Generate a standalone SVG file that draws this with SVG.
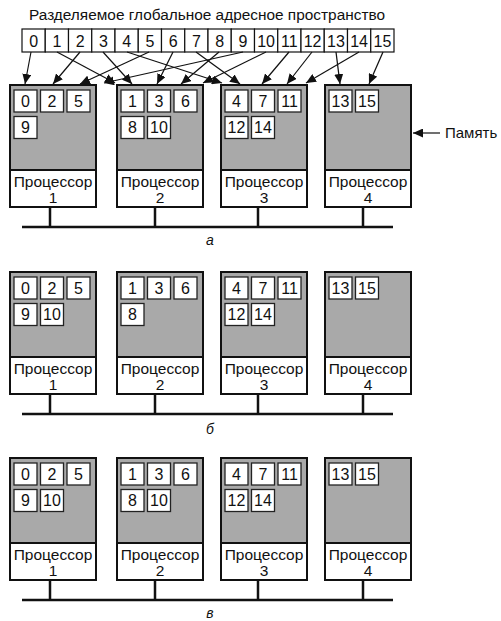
<svg xmlns="http://www.w3.org/2000/svg" width="501" height="621" viewBox="0 0 501 621">
<defs>
<style>
.t{font-family:"Liberation Sans",Arial,sans-serif;fill:#111}
.title{font-size:15.4px;text-anchor:middle}
.num{font-size:16px;text-anchor:middle}
.proc-t{font-size:15.5px;text-anchor:middle}
.lbl{font-size:14px;font-style:italic;text-anchor:middle}
.acell{fill:#fff;stroke:#111;stroke-width:1.2}
.mem{fill:#a9a9a9}
.procbg{fill:#fff}
.frame{fill:none;stroke:#111;stroke-width:2}
.cell{fill:#fff;stroke:#222;stroke-width:1.3}
.bus{stroke:#111;stroke-width:2.5;fill:none}
.arr{stroke:#111;stroke-width:1.2;fill:none;marker-end:url(#ah)}
</style>
<marker id="ah" markerWidth="11" markerHeight="9" refX="10" refY="4.5" orient="auto" markerUnits="userSpaceOnUse">
<path d="M0,0 L10,4.5 L0,9 z" fill="#111"/>
</marker>
</defs>
<rect width="501" height="621" fill="#fff"/>

<g id="title"><text class="t title" x="207" y="20">Разделяемое глобальное адресное пространство</text></g>

<g id="address-space">
<rect class="acell" x="22" y="29" width="23.25" height="23"/><text class="t num" x="33.6" y="46.5">0</text>
<rect class="acell" x="45.25" y="29" width="23.25" height="23"/><text class="t num" x="56.9" y="46.5">1</text>
<rect class="acell" x="68.5" y="29" width="23.25" height="23"/><text class="t num" x="80.1" y="46.5">2</text>
<rect class="acell" x="91.75" y="29" width="23.25" height="23"/><text class="t num" x="103.4" y="46.5">3</text>
<rect class="acell" x="115" y="29" width="23.25" height="23"/><text class="t num" x="126.6" y="46.5">4</text>
<rect class="acell" x="138.25" y="29" width="23.25" height="23"/><text class="t num" x="149.9" y="46.5">5</text>
<rect class="acell" x="161.5" y="29" width="23.25" height="23"/><text class="t num" x="173.1" y="46.5">6</text>
<rect class="acell" x="184.75" y="29" width="23.25" height="23"/><text class="t num" x="196.4" y="46.5">7</text>
<rect class="acell" x="208" y="29" width="23.25" height="23"/><text class="t num" x="219.6" y="46.5">8</text>
<rect class="acell" x="231.25" y="29" width="23.25" height="23"/><text class="t num" x="242.9" y="46.5">9</text>
<rect class="acell" x="254.5" y="29" width="23.25" height="23"/><text class="t num" x="266.1" y="46.5">10</text>
<rect class="acell" x="277.75" y="29" width="23.25" height="23"/><text class="t num" x="289.4" y="46.5">11</text>
<rect class="acell" x="301" y="29" width="23.25" height="23"/><text class="t num" x="312.6" y="46.5">12</text>
<rect class="acell" x="324.25" y="29" width="23.25" height="23"/><text class="t num" x="335.9" y="46.5">13</text>
<rect class="acell" x="347.5" y="29" width="23.25" height="23"/><text class="t num" x="359.1" y="46.5">14</text>
<rect class="acell" x="370.75" y="29" width="23.25" height="23"/><text class="t num" x="382.4" y="46.5">15</text>
</g>

<g id="connectors">
<line class="arr" x1="31" y1="52" x2="25" y2="84"/>
<line class="arr" x1="80" y1="52" x2="53" y2="84"/>
<line class="arr" x1="149" y1="52" x2="80" y2="84"/>
<line class="arr" x1="243" y1="52" x2="104" y2="83"/>
<line class="arr" x1="57" y1="52" x2="115" y2="83"/>
<line class="arr" x1="103" y1="52" x2="132" y2="84"/>
<line class="arr" x1="173" y1="52" x2="157" y2="84"/>
<line class="arr" x1="219" y1="52" x2="181" y2="84"/>
<line class="arr" x1="266" y1="52" x2="203" y2="83"/>
<line class="arr" x1="127" y1="52" x2="222" y2="83"/>
<line class="arr" x1="196" y1="52" x2="240" y2="84"/>
<line class="arr" x1="289" y1="52" x2="262" y2="84"/>
<line class="arr" x1="312" y1="52" x2="287" y2="84"/>
<line class="arr" x1="359" y1="52" x2="306" y2="83"/>
<line class="arr" x1="336" y1="52" x2="340" y2="84"/>
<line class="arr" x1="383" y1="52" x2="369" y2="84"/>
<line class="arr" x1="440" y1="133" x2="413" y2="133"/>
</g>

<g id="memory-label"><text class="t" x="445" y="138" font-size="15">Память</text></g>

<!-- Section a -->
<g id="a-p1" transform="translate(10,85)">
<rect class="mem" width="86" height="85"/><rect class="procbg" y="85" width="86" height="37"/>
<rect class="cell" x="4" y="5" width="23" height="22"/><text class="t num" x="15.5" y="21.8">0</text>
<rect class="cell" x="30.5" y="5" width="23" height="22"/><text class="t num" x="42" y="21.8">2</text>
<rect class="cell" x="57" y="5" width="23" height="22"/><text class="t num" x="68.5" y="21.8">5</text>
<rect class="cell" x="4" y="31.5" width="23" height="22"/><text class="t num" x="15.5" y="48.3">9</text>
<rect class="frame" width="86" height="122"/><line class="frame" x1="0" y1="85" x2="86" y2="85"/>
<text class="t proc-t" x="43" y="102">Процессор</text><text class="t proc-t" x="43" y="118">1</text>
</g>
<g id="a-p2" transform="translate(117,85)">
<rect class="mem" width="86" height="85"/><rect class="procbg" y="85" width="86" height="37"/>
<rect class="cell" x="4" y="5" width="23" height="22"/><text class="t num" x="15.5" y="21.8">1</text>
<rect class="cell" x="30.5" y="5" width="23" height="22"/><text class="t num" x="42" y="21.8">3</text>
<rect class="cell" x="57" y="5" width="23" height="22"/><text class="t num" x="68.5" y="21.8">6</text>
<rect class="cell" x="4" y="31.5" width="23" height="22"/><text class="t num" x="15.5" y="48.3">8</text>
<rect class="cell" x="30.5" y="31.5" width="23" height="22"/><text class="t num" x="42" y="48.3">10</text>
<rect class="frame" width="86" height="122"/><line class="frame" x1="0" y1="85" x2="86" y2="85"/>
<text class="t proc-t" x="43" y="102">Процессор</text><text class="t proc-t" x="43" y="118">2</text>
</g>
<g id="a-p3" transform="translate(221,85)">
<rect class="mem" width="86" height="85"/><rect class="procbg" y="85" width="86" height="37"/>
<rect class="cell" x="4" y="5" width="23" height="22"/><text class="t num" x="15.5" y="21.8">4</text>
<rect class="cell" x="30.5" y="5" width="23" height="22"/><text class="t num" x="42" y="21.8">7</text>
<rect class="cell" x="57" y="5" width="23" height="22"/><text class="t num" x="68.5" y="21.8">11</text>
<rect class="cell" x="4" y="31.5" width="23" height="22"/><text class="t num" x="15.5" y="48.3">12</text>
<rect class="cell" x="30.5" y="31.5" width="23" height="22"/><text class="t num" x="42" y="48.3">14</text>
<rect class="frame" width="86" height="122"/><line class="frame" x1="0" y1="85" x2="86" y2="85"/>
<text class="t proc-t" x="43" y="102">Процессор</text><text class="t proc-t" x="43" y="118">3</text>
</g>
<g id="a-p4" transform="translate(325,85)">
<rect class="mem" width="86" height="85"/><rect class="procbg" y="85" width="86" height="37"/>
<rect class="cell" x="4" y="5" width="23" height="22"/><text class="t num" x="15.5" y="21.8">13</text>
<rect class="cell" x="30.5" y="5" width="23" height="22"/><text class="t num" x="42" y="21.8">15</text>
<rect class="frame" width="86" height="122"/><line class="frame" x1="0" y1="85" x2="86" y2="85"/>
<text class="t proc-t" x="43" y="102">Процессор</text><text class="t proc-t" x="43" y="118">4</text>
</g>
<g id="a-bus">
<path class="bus" d="M22,227 H393 M50,207 V227 M155,207 V227 M258,207 V227 M363,207 V227"/>
<text class="t lbl" x="210" y="245">а</text>
</g>

<!-- Section б -->
<g id="b-p1" transform="translate(10,272)">
<rect class="mem" width="86" height="85"/><rect class="procbg" y="85" width="86" height="37"/>
<rect class="cell" x="4" y="5" width="23" height="22"/><text class="t num" x="15.5" y="21.8">0</text>
<rect class="cell" x="30.5" y="5" width="23" height="22"/><text class="t num" x="42" y="21.8">2</text>
<rect class="cell" x="57" y="5" width="23" height="22"/><text class="t num" x="68.5" y="21.8">5</text>
<rect class="cell" x="4" y="31.5" width="23" height="22"/><text class="t num" x="15.5" y="48.3">9</text>
<rect class="cell" x="30.5" y="31.5" width="23" height="22"/><text class="t num" x="42" y="48.3">10</text>
<rect class="frame" width="86" height="122"/><line class="frame" x1="0" y1="85" x2="86" y2="85"/>
<text class="t proc-t" x="43" y="102">Процессор</text><text class="t proc-t" x="43" y="118">1</text>
</g>
<g id="b-p2" transform="translate(117,272)">
<rect class="mem" width="86" height="85"/><rect class="procbg" y="85" width="86" height="37"/>
<rect class="cell" x="4" y="5" width="23" height="22"/><text class="t num" x="15.5" y="21.8">1</text>
<rect class="cell" x="30.5" y="5" width="23" height="22"/><text class="t num" x="42" y="21.8">3</text>
<rect class="cell" x="57" y="5" width="23" height="22"/><text class="t num" x="68.5" y="21.8">6</text>
<rect class="cell" x="4" y="31.5" width="23" height="22"/><text class="t num" x="15.5" y="48.3">8</text>
<rect class="frame" width="86" height="122"/><line class="frame" x1="0" y1="85" x2="86" y2="85"/>
<text class="t proc-t" x="43" y="102">Процессор</text><text class="t proc-t" x="43" y="118">2</text>
</g>
<g id="b-p3" transform="translate(221,272)">
<rect class="mem" width="86" height="85"/><rect class="procbg" y="85" width="86" height="37"/>
<rect class="cell" x="4" y="5" width="23" height="22"/><text class="t num" x="15.5" y="21.8">4</text>
<rect class="cell" x="30.5" y="5" width="23" height="22"/><text class="t num" x="42" y="21.8">7</text>
<rect class="cell" x="57" y="5" width="23" height="22"/><text class="t num" x="68.5" y="21.8">11</text>
<rect class="cell" x="4" y="31.5" width="23" height="22"/><text class="t num" x="15.5" y="48.3">12</text>
<rect class="cell" x="30.5" y="31.5" width="23" height="22"/><text class="t num" x="42" y="48.3">14</text>
<rect class="frame" width="86" height="122"/><line class="frame" x1="0" y1="85" x2="86" y2="85"/>
<text class="t proc-t" x="43" y="102">Процессор</text><text class="t proc-t" x="43" y="118">3</text>
</g>
<g id="b-p4" transform="translate(325,272)">
<rect class="mem" width="86" height="85"/><rect class="procbg" y="85" width="86" height="37"/>
<rect class="cell" x="4" y="5" width="23" height="22"/><text class="t num" x="15.5" y="21.8">13</text>
<rect class="cell" x="30.5" y="5" width="23" height="22"/><text class="t num" x="42" y="21.8">15</text>
<rect class="frame" width="86" height="122"/><line class="frame" x1="0" y1="85" x2="86" y2="85"/>
<text class="t proc-t" x="43" y="102">Процессор</text><text class="t proc-t" x="43" y="118">4</text>
</g>
<g id="b-bus">
<path class="bus" d="M22,414 H393 M50,394 V414 M155,394 V414 M258,394 V414 M363,394 V414"/>
<text class="t lbl" x="210" y="434">б</text>
</g>

<!-- Section в -->
<g id="c-p1" transform="translate(10,458)">
<rect class="mem" width="86" height="85"/><rect class="procbg" y="85" width="86" height="37"/>
<rect class="cell" x="4" y="5" width="23" height="22"/><text class="t num" x="15.5" y="21.8">0</text>
<rect class="cell" x="30.5" y="5" width="23" height="22"/><text class="t num" x="42" y="21.8">2</text>
<rect class="cell" x="57" y="5" width="23" height="22"/><text class="t num" x="68.5" y="21.8">5</text>
<rect class="cell" x="4" y="31.5" width="23" height="22"/><text class="t num" x="15.5" y="48.3">9</text>
<rect class="cell" x="30.5" y="31.5" width="23" height="22"/><text class="t num" x="42" y="48.3">10</text>
<rect class="frame" width="86" height="122"/><line class="frame" x1="0" y1="85" x2="86" y2="85"/>
<text class="t proc-t" x="43" y="102">Процессор</text><text class="t proc-t" x="43" y="118">1</text>
</g>
<g id="c-p2" transform="translate(117,458)">
<rect class="mem" width="86" height="85"/><rect class="procbg" y="85" width="86" height="37"/>
<rect class="cell" x="4" y="5" width="23" height="22"/><text class="t num" x="15.5" y="21.8">1</text>
<rect class="cell" x="30.5" y="5" width="23" height="22"/><text class="t num" x="42" y="21.8">3</text>
<rect class="cell" x="57" y="5" width="23" height="22"/><text class="t num" x="68.5" y="21.8">6</text>
<rect class="cell" x="4" y="31.5" width="23" height="22"/><text class="t num" x="15.5" y="48.3">8</text>
<rect class="cell" x="30.5" y="31.5" width="23" height="22"/><text class="t num" x="42" y="48.3">10</text>
<rect class="frame" width="86" height="122"/><line class="frame" x1="0" y1="85" x2="86" y2="85"/>
<text class="t proc-t" x="43" y="102">Процессор</text><text class="t proc-t" x="43" y="118">2</text>
</g>
<g id="c-p3" transform="translate(221,458)">
<rect class="mem" width="86" height="85"/><rect class="procbg" y="85" width="86" height="37"/>
<rect class="cell" x="4" y="5" width="23" height="22"/><text class="t num" x="15.5" y="21.8">4</text>
<rect class="cell" x="30.5" y="5" width="23" height="22"/><text class="t num" x="42" y="21.8">7</text>
<rect class="cell" x="57" y="5" width="23" height="22"/><text class="t num" x="68.5" y="21.8">11</text>
<rect class="cell" x="4" y="31.5" width="23" height="22"/><text class="t num" x="15.5" y="48.3">12</text>
<rect class="cell" x="30.5" y="31.5" width="23" height="22"/><text class="t num" x="42" y="48.3">14</text>
<rect class="frame" width="86" height="122"/><line class="frame" x1="0" y1="85" x2="86" y2="85"/>
<text class="t proc-t" x="43" y="102">Процессор</text><text class="t proc-t" x="43" y="118">3</text>
</g>
<g id="c-p4" transform="translate(325,458)">
<rect class="mem" width="86" height="85"/><rect class="procbg" y="85" width="86" height="37"/>
<rect class="cell" x="4" y="5" width="23" height="22"/><text class="t num" x="15.5" y="21.8">13</text>
<rect class="cell" x="30.5" y="5" width="23" height="22"/><text class="t num" x="42" y="21.8">15</text>
<rect class="frame" width="86" height="122"/><line class="frame" x1="0" y1="85" x2="86" y2="85"/>
<text class="t proc-t" x="43" y="102">Процессор</text><text class="t proc-t" x="43" y="118">4</text>
</g>
<g id="c-bus">
<path class="bus" d="M22,600 H393 M50,580 V600 M155,580 V600 M258,580 V600 M363,580 V600"/>
<text class="t lbl" x="210" y="618">в</text>
</g>
</svg>
